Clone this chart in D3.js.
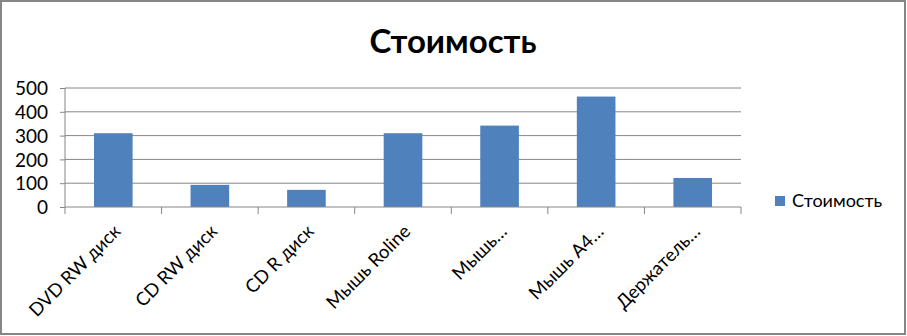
<!DOCTYPE html>
<html>
<head>
<meta charset="utf-8">
<script src="https://cdn.jsdelivr.net/npm/d3@7"></script>
<style>
  body { margin: 0; background: #fff; }
  text { font-family: Lato, "Open Sans", "Liberation Sans", sans-serif; fill: #000; }
</style>
</head>
<body>
<script>
var categories = ["DVD RW диск", "CD RW диск", "CD R диск", "Мышь Roline", "Мышь…", "Мышь A4…", "Держатель…"];
var values = [310, 93, 72, 310, 342, 464, 122];
var yTicks = [0, 100, 200, 300, 400, 500];
var seriesName = "Стоимость";

var w = 907, h = 336;
var plotLeft = 65, plotRight = 741, plotTop = 88, plotBottom = 207;

var svg = d3.select("body").append("svg")
    .attr("width", w)
    .attr("height", h);

// frame
svg.append("rect")
    .attr("x", 1).attr("y", 1)
    .attr("width", w - 3).attr("height", h - 3)
    .attr("fill", "#fff")
    .attr("stroke", "#868686")
    .attr("stroke-width", 2);

var x = d3.scaleBand().domain(categories).range([plotLeft, plotRight]).paddingInner(0.6).paddingOuter(0.3);
var xb = d3.scaleBand().domain(categories).range([plotLeft, plotRight]);
var y = d3.scaleLinear().domain([0, 500]).range([plotBottom, plotTop]);

// gridlines
svg.selectAll(".grid")
    .data(yTicks.filter(function(d){ return d > 0 }))
    .enter().append("line")
    .attr("x1", plotLeft).attr("x2", plotRight)
    .attr("y1", function(d){ return y(d) }).attr("y2", function(d){ return y(d) })
    .attr("stroke", "#868686")
    .attr("stroke-width", 1);

// bars
svg.selectAll(".bar")
    .data(values)
    .enter().append("rect")
    .attr("x", function(d, i){ return x(categories[i]) })
    .attr("width", x.bandwidth())
    .attr("y", function(d){ return y(d) })
    .attr("height", function(d){ return plotBottom - y(d) })
    .attr("fill", "#4f81bd");

// y axis
var yAxis = svg.append("g")
    .attr("transform", "translate(" + plotLeft + ",0)")
    .call(d3.axisLeft(y).tickValues(yTicks).tickSize(5).tickPadding(4));
yAxis.select(".domain").attr("stroke", "#868686").attr("d", "M0," + plotTop + "V" + plotBottom);
yAxis.selectAll(".tick line").attr("stroke", "#868686");
yAxis.selectAll("text").style("font-size", "19px").attr("dy", "0.35em").attr("x", -17);

// x axis
var ticks = categories.map(function(c){ return xb(c) }).concat([plotRight]);
svg.append("line")
    .attr("x1", plotLeft).attr("x2", plotRight)
    .attr("y1", plotBottom).attr("y2", plotBottom)
    .attr("stroke", "#868686");
svg.selectAll(".xtick")
    .data(ticks)
    .enter().append("line")
    .attr("x1", function(d){ return d }).attr("x2", function(d){ return d })
    .attr("y1", plotBottom).attr("y2", plotBottom + 7)
    .attr("stroke", "#868686");

svg.selectAll(".xlab")
    .data(categories)
    .enter().append("text")
    .attr("transform", function(d){
        return "translate(" + (xb(d) + xb.bandwidth() / 2 + 4) + "," + (plotBottom + 21) + ") rotate(-45)";
    })
    .attr("text-anchor", "end")
    .attr("dy", "0.35em")
    .style("font-size", "18.5px")
    .text(function(d){ return d });

// title
svg.append("text")
    .attr("x", 453).attr("y", 53)
    .attr("text-anchor", "middle")
    .style("font-size", "33px")
    .style("font-weight", "bold")
    .text(seriesName);

// legend
svg.append("rect")
    .attr("x", 775).attr("y", 196)
    .attr("width", 10).attr("height", 10)
    .attr("fill", "#4f81bd");
svg.append("text")
    .attr("x", 792).attr("y", 207)
    .style("font-size", "18px")
    .text(seriesName);
</script>
</body>
</html>
